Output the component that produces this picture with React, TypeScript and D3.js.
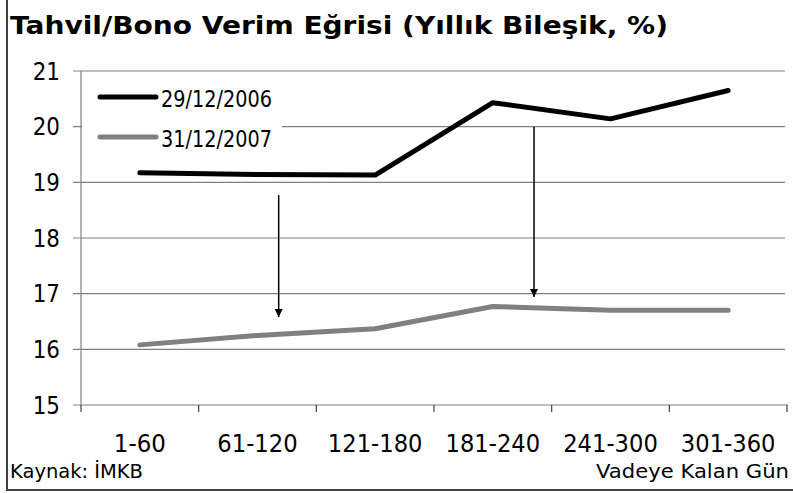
import React from "react";
import * as d3 from "d3";

const categories = ["1-60", "61-120", "121-180", "181-240", "241-300", "301-360"];
const series2006 = [19.17, 19.14, 19.13, 20.43, 20.14, 20.65];
const series2007 = [16.08, 16.25, 16.37, 16.77, 16.7, 16.7];
const yTicks = [15, 16, 17, 18, 19, 20, 21];
const seriesNames = ["29/12/2006", "31/12/2007"];
// arrows: [category position (index units), from value, to value]
const arrows = [
  [1.18, 18.77, 16.58],
  [3.35, 20.0, 16.94],
];

const W = 793;
const H = 493;
const left = 81;
const right = 787;
const top = 71;
const bottom = 405;

// narrow-font width estimate (Tahoma-like proportions)
const textW = (s: string, size: number) =>
  Array.from(s).reduce((acc, ch) => acc + (ch === "-" ? 0.363 : ch === "/" ? 0.378 : 0.546), 0) * size;

export default function App() {
  const x = d3.scaleBand<string>().domain(categories).range([left, right]);
  const xi = d3.scaleLinear().domain([-0.5, categories.length - 0.5]).range([left, right]);
  const y = d3.scaleLinear().domain([15, 21]).range([bottom, top]);
  const line = d3
    .line<number>()
    .x((_, i) => (x(categories[i]) as number) + x.bandwidth() / 2)
    .y((d) => y(d));
  const font = "'DejaVu Sans', Verdana, sans-serif";
  const gridColor = "#808080";

  return (
    <div style={{ position: "absolute", left: 0, top: 0 }}>
      <svg width={W} height={H} style={{ display: "block", background: "#fff" }}>
        <defs>
          <marker id="ah" viewBox="0 0 10 10" refX="10" refY="5" markerWidth="8" markerHeight="8" markerUnits="userSpaceOnUse" orient="auto">
            <path d="M0,0 L10,5 L0,10 z" fill="#000" />
          </marker>
        </defs>
        <rect x={0} y={0} width={W} height={H} fill="#fff" />
        {/* border */}
        <line x1={7} y1={0} x2={7} y2={491} stroke="#404040" strokeWidth={2} />
        <line x1={6} y1={490} x2={W} y2={490} stroke="#404040" strokeWidth={2} />

        {/* title */}
        <text x={10} y={34} fontFamily={font} fontWeight="bold" fontSize={25} textLength={658} lengthAdjust="spacingAndGlyphs" fill="#000">
          Tahvil/Bono Verim Eğrisi (Yıllık Bileşik, %)
        </text>

        {/* grid lines */}
        {yTicks.map((t) => (
          <g key={t}>
            <line x1={left - 8} x2={t === 15 ? right + 1 : right - 2} y1={y(t)} y2={y(t)} stroke={gridColor} strokeWidth={1.2} />
            <text x={60} y={y(t)} dy="0.36em" textAnchor="end" fontFamily={font} fontSize={24} textLength={textW(String(t), 25)} lengthAdjust="spacingAndGlyphs" fill="#000">
              {t}
            </text>
          </g>
        ))}
        {/* y axis */}
        <line x1={left} x2={left} y1={top} y2={bottom} stroke={gridColor} strokeWidth={1.2} />
        {/* x ticks */}
        {d3.range(categories.length + 1).map((i) => (
          <line key={i} x1={xi(i - 0.5)} x2={xi(i - 0.5)} y1={bottom} y2={bottom + 7} stroke="#404040" strokeWidth={1.2} />
        ))}
        {categories.map((c) => (
          <text key={c} x={(x(c) as number) + x.bandwidth() / 2} y={452} textAnchor="middle" fontFamily={font} fontSize={24} textLength={textW(c, 26)} lengthAdjust="spacingAndGlyphs" fill="#000">
            {c}
          </text>
        ))}

        {/* legend box */}
        <rect x={left + 1} y={78} width={200} height={86} fill="#fff" />
        <line x1={100} x2={156} y1={97} y2={97} stroke="#000" strokeWidth={5} strokeLinecap="round" />
        <text x={161} y={107} fontFamily={font} fontSize={23} textLength={111} lengthAdjust="spacingAndGlyphs" fill="#000">
          {seriesNames[0]}
        </text>
        <line x1={100} x2={156} y1={137} y2={137} stroke="#808080" strokeWidth={5} strokeLinecap="round" />
        <text x={161} y={147} fontFamily={font} fontSize={23} textLength={111} lengthAdjust="spacingAndGlyphs" fill="#000">
          {seriesNames[1]}
        </text>

        {/* series */}
        <path d={line(series2006) || ""} fill="none" stroke="#000" strokeWidth={5} strokeLinecap="round" strokeLinejoin="round" />
        <path d={line(series2007) || ""} fill="none" stroke="#808080" strokeWidth={5} strokeLinecap="round" strokeLinejoin="round" />

        {/* arrows */}
        {arrows.map((a, i) => (
          <line key={i} x1={xi(a[0])} x2={xi(a[0])} y1={y(a[1])} y2={y(a[2])} stroke="#000" strokeWidth={1.5} markerEnd="url(#ah)" />
        ))}

        {/* footer */}
        <text x={10} y={478} fontFamily={font} fontSize={20} textLength={133} lengthAdjust="spacingAndGlyphs" fill="#000">
          Kaynak: İMKB
        </text>
        <text x={789} y={478} textAnchor="end" fontFamily={font} fontSize={20} textLength={193} lengthAdjust="spacingAndGlyphs" fill="#000">
          Vadeye Kalan Gün
        </text>
      </svg>
    </div>
  );
}
